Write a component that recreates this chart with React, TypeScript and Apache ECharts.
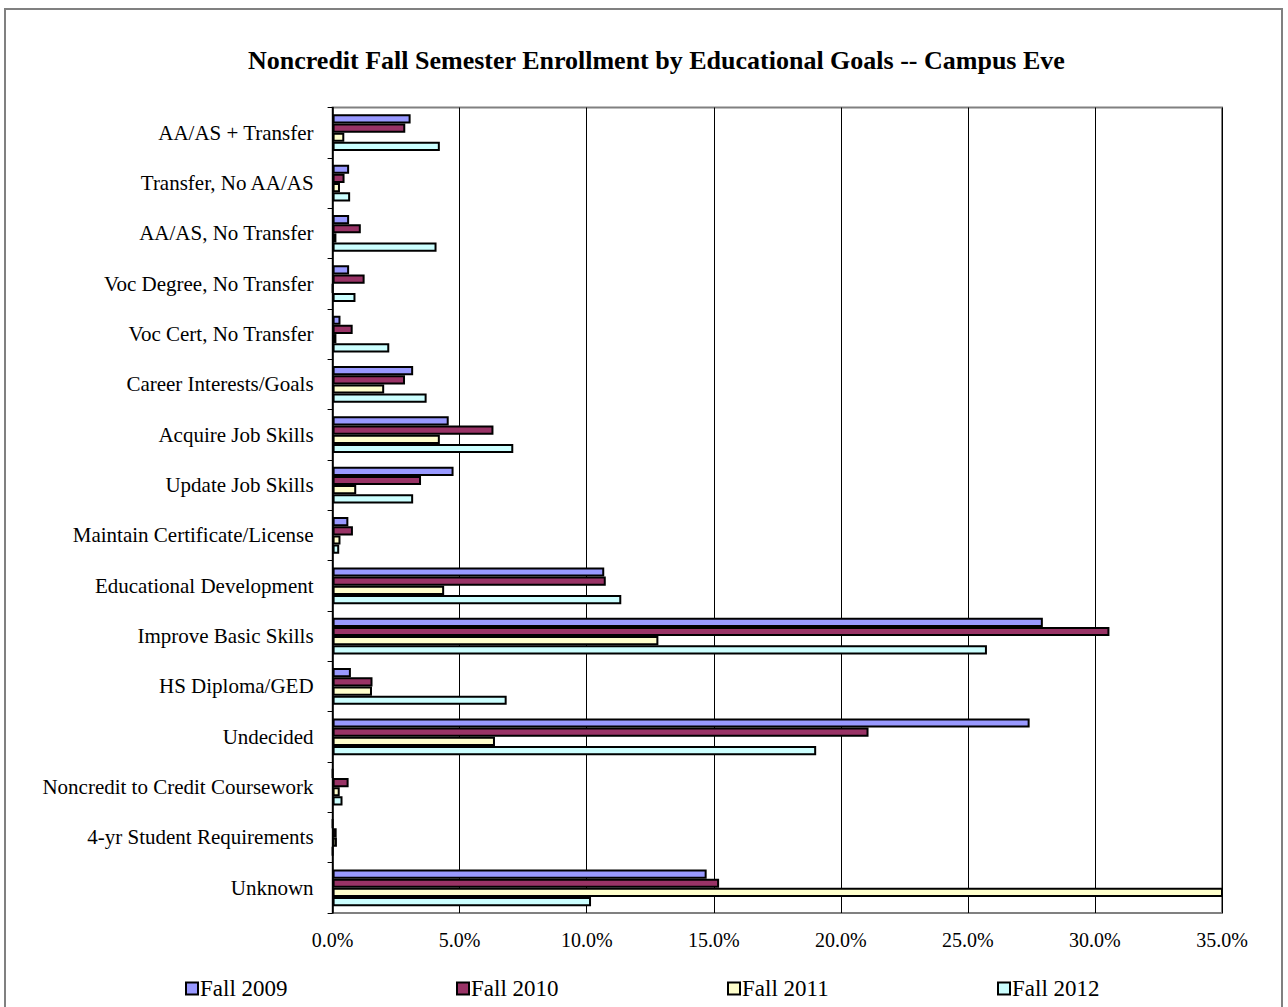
import React, { useEffect, useRef } from "react";
import * as echarts from "echarts";

const categories = [
  "AA/AS + Transfer",
  "Transfer, No AA/AS",
  "AA/AS, No Transfer",
  "Voc Degree, No Transfer",
  "Voc Cert, No Transfer",
  "Career Interests/Goals",
  "Acquire Job Skills",
  "Update Job Skills",
  "Maintain Certificate/License",
  "Educational Development",
  "Improve Basic Skills",
  "HS Diploma/GED",
  "Undecided",
  "Noncredit to Credit Coursework",
  "4-yr Student Requirements",
  "Unknown",
];

const seriesNames = ["Fall 2009", "Fall 2010", "Fall 2011", "Fall 2012"];
const fall2009 = [3.07, 0.65, 0.65, 0.65, 0.31, 3.17, 4.57, 4.76, 0.62, 10.69, 27.95, 0.72, 27.43, 0, 0, 14.72];
const fall2010 = [2.86, 0.47, 1.11, 1.26, 0.79, 2.85, 6.33, 3.48, 0.8, 10.75, 30.57, 1.57, 21.09, 0.63, 0.16, 15.21];
const fall2011 = [0.46, 0.29, 0.15, 0, 0.15, 2.03, 4.22, 0.93, 0.31, 4.39, 12.82, 1.55, 6.39, 0.28, 0.17, 36.5];
const fall2012 = [4.22, 0.69, 4.09, 0.9, 2.23, 3.7, 7.11, 3.17, 0.26, 11.36, 25.75, 6.85, 19.03, 0.39, 0, 10.17];
const seriesData = [fall2009, fall2010, fall2011, fall2012];
const colors = ["#9999FF", "#993366", "#FFFFCC", "#CCFFFF"];
const legendLefts = [180, 451, 722, 992];

const FONT = "'Liberation Serif', 'Times New Roman', serif";

export default function App() {
  const ref = useRef<HTMLDivElement>(null);
  useEffect(() => {
    if (!ref.current) return;
    const chart = echarts.init(ref.current, null, { renderer: "svg" });
    chart.setOption({
      animation: false,
      backgroundColor: "#ffffff",
      title: {
        text: "Noncredit Fall Semester Enrollment by Educational Goals -- Campus Eve",
        left: 243,
        top: 42,
        textStyle: { fontFamily: FONT, fontWeight: "bold", fontSize: 26, color: "#000" },
      },
      graphic: [
        {
          type: "rect",
          shape: { x: 5, y: 9, width: 1277, height: 1000 },
          style: { fill: "none", stroke: "#808080", lineWidth: 2 },
          silent: true,
        },
      ],
      legend: seriesNames.map((n, i) => ({
        data: [n],
        left: legendLefts[i],
        top: 972,
        icon: "rect",
        itemWidth: 12,
        itemHeight: 12,
        itemGap: 5,
        itemStyle: { borderColor: "#000", borderWidth: 2 },
        textStyle: { fontFamily: FONT, fontSize: 23, color: "#000", padding: [0, 0, 0, -3] },
        selectedMode: false,
      })),
      grid: {
        left: 332.6,
        right: 66,
        top: 107.5,
        bottom: 94,
        show: true,
        borderColor: "#808080",
        borderWidth: 2,
        backgroundColor: "transparent",
      },
      xAxis: {
        type: "value",
        min: 0,
        max: 35,
        interval: 5,
        axisLine: { show: false },
        axisTick: { show: false },
        splitLine: { show: true, lineStyle: { color: "#000", width: 1 } },
        axisLabel: {
          fontFamily: FONT,
          fontSize: 20,
          color: "#000",
          margin: 17,
          formatter: (v: number) => v.toFixed(1) + "%",
        },
      },
      yAxis: {
        type: "category",
        data: categories,
        inverse: true,
        axisLine: { show: true, lineStyle: { color: "#000", width: 1.5 } },
        axisTick: { show: true, length: 5, lineStyle: { color: "#000" } },
        axisLabel: { fontFamily: FONT, fontSize: 21, color: "#000", margin: 19 },
        splitLine: { show: false },
      },
      series: seriesNames.map((n, i) => ({
        name: n,
        type: "bar",
        data: seriesData[i],
        barGap: "0%",
        barCategoryGap: "27%",
        clip: true,
        itemStyle: { color: colors[i], borderColor: "#000", borderWidth: 2 },
      })),
    });
    return () => chart.dispose();
  }, []);
  return (
    <div
      ref={ref}
      style={{ position: "absolute", left: 0, top: 0, width: 1288, height: 1007 }}
    />
  );
}
